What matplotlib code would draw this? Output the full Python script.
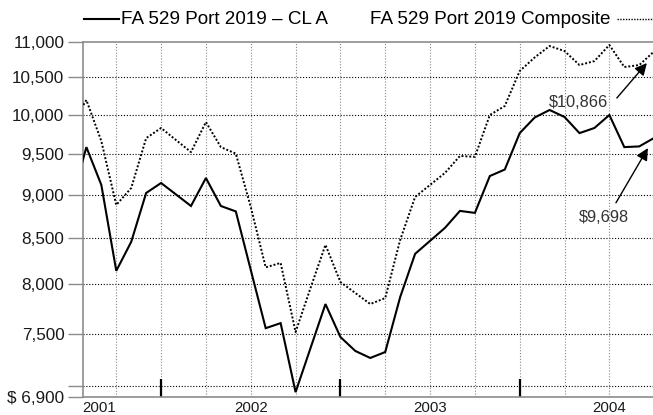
import matplotlib
matplotlib.use('Agg')
import matplotlib.pyplot as plt
from matplotlib.lines import Line2D
from matplotlib.ticker import FixedLocator, NullLocator

# months since Jan 2001 (0 = Jan 2001)
months = list(range(0, 40))

port = [8915, 9581, 9117, 8144, 8460, 9021, 9140, 9003, 8868, 9200,
        8868, 8805, 8154, 7553, 7603, 6944, 7358, 7796, 7466, 7330,
        7263, 7320, 7868, 8328, 8471, 8617, 8811, 8788, 9224, 9303,
        9759, 9961, 10060, 9968, 9759, 9825, 9994, 9581, 9590, 9698]

composite = [9863, 10193, 9657, 8880, 9080, 9695, 9825, 9670, 9519, 9902,
             9581, 9500, 8857, 8181, 8229, 7515, 7962, 8427, 8025, 7910,
             7796, 7858, 8482, 8974, 9117, 9262, 9471, 9459, 9994, 10113,
             10588, 10779, 10942, 10870, 10672, 10728, 10957, 10644, 10672, 10866]

ytick_vals = [6900, 7000, 7500, 8000, 8500, 9000, 9500, 10000, 10500, 11000]
year_labels = ['2001', '2002', '2003', '2004']
year_pos = [0, 12, 24, 36]
midyear_pos = [6, 18, 30]

plt.rcParams['font.family'] = ['Liberation Sans', 'DejaVu Sans']

fig = plt.figure(figsize=(6.53, 4.15), dpi=100)
ax = fig.add_axes([82.5 / 653, 18 / 415, 1 - 82.5 / 653, (397 - 42) / 415])

ax.plot(months, port, color='black', lw=1.5, solid_joinstyle='miter', zorder=3)
ax.plot(months, composite, color='black', lw=1.4, ls=(0, (1, 1)), zorder=3)

ax.set_yscale('log')
ax.set_ylim(6900, 11000)
ax.set_xlim(0.74, 38.92)

ax.yaxis.set_major_locator(FixedLocator(ytick_vals))
ax.yaxis.set_minor_locator(NullLocator())
labels = []
for v in ytick_vals:
    if v == 6900:
        labels.append('$ 6,900')
    elif v == 7000:
        labels.append('')
    else:
        labels.append(f'{v:,}')
ax.set_yticklabels(labels, fontsize=12.3, color='#1a1a1a')
ax.tick_params(axis='y', length=11, width=1, color='#8c8c8c', pad=2)

# gridlines
for v in ytick_vals[1:-1]:
    ax.axhline(v, color='black', lw=0.8, ls=(0, (1, 1.6)), zorder=1)
for m in range(3, 39, 3):
    ax.axvline(m, color='#888888', lw=0.8, ls=(0, (1, 1.6)), zorder=1)

# mid-year tick marks
ax.set_xticks(midyear_pos)
ax.set_xticklabels([])
ax.xaxis.set_minor_locator(NullLocator())
ax.tick_params(axis='x', direction='in', length=13, width=1.6, color='black')

for lab, pos in zip(year_labels, year_pos):
    if pos < 0.74:
        ax.text(0.74, -0.012, lab, transform=ax.get_xaxis_transform(),
                ha='left', va='top', fontsize=10.8, color='#1a1a1a')
    else:
        ax.text(pos, -0.012, lab, transform=ax.get_xaxis_transform(),
                ha='center', va='top', fontsize=10.8, color='#1a1a1a')

for s in ['left', 'bottom', 'top']:
    ax.spines[s].set_color('#8c8c8c')
    ax.spines[s].set_linewidth(1.2)
ax.spines['right'].set_visible(False)

# legend on top
ly = 1 - 19 / 415
fig.add_artist(Line2D([84 / 653, 119 / 653], [ly, ly], color='black', lw=1.5))
fig.text(121 / 653, ly, 'FA 529 Port 2019 \u2013 CL A', fontsize=13.6, va='center', ha='left')
fig.text(610 / 653, ly, 'FA 529 Port 2019 Composite', fontsize=13.6, va='center', ha='right')
fig.add_artist(Line2D([617 / 653, 652 / 653], [ly, ly], color='black', lw=1.0, ls=(0, (1, 1))))

# end-value annotations
arrow = dict(arrowstyle='-|>', color='black', lw=1, mutation_scale=18, shrinkA=0, shrinkB=0)
ax.text(35.9, 10153, '$10,866', fontsize=11.8, ha='right', va='center', color='#333333')
ax.annotate('', xy=(38.51, 10700), xytext=(36.5, 10220), arrowprops=arrow)
ax.text(35.63, 8731, '$9,698', fontsize=11.8, ha='center', va='center', color='#333333')
ax.annotate('', xy=(38.58, 9569), xytext=(36.44, 8905), arrowprops=arrow)

fig.savefig('out.png', dpi=100)
